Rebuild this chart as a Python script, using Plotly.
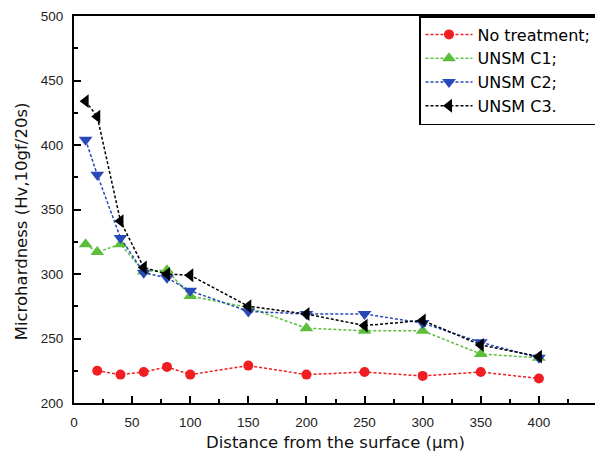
import plotly.graph_objects as go

x_none = [20, 40, 60, 80, 100, 150, 200, 250, 300, 350, 400]
y_none = [225, 222, 224, 228, 222, 229, 222, 224, 221, 224, 219]

x_unsm = [10, 20, 40, 60, 80, 100, 150, 200, 250, 300, 350, 400]
y_c1 = [323, 317, 323, 302, 303, 283, 274, 258, 256, 256, 238, 235]
y_c2 = [404, 377, 328, 301, 297, 287, 271, 269, 269, 262, 247, 235]
y_c3 = [434, 422, 341, 305, 300, 299, 275, 269, 260, 264, 245, 236]

names = ["No treatment;", "UNSM C1;", "UNSM C2;", "UNSM C3."]
colors = ["#f01e23", "#5cbf3c", "#2849b8", "#000000"]
symbols = ["circle", "triangle-up", "triangle-down", "triangle-left"]

x_title = "Distance from the surface (µm)"
y_title = "Microhardness (Hv,10gf/20s)"

series = [(x_none, y_none), (x_unsm, y_c1), (x_unsm, y_c2), (x_unsm, y_c3)]

fig = go.Figure()
for (xs, ys), n, c, s in zip(series, names, colors, symbols):
    fig.add_trace(go.Scatter(
        x=xs, y=ys, name=n, mode="lines+markers",
        line=dict(color=c, width=1.5, dash="3px,2px"),
        marker=dict(symbol=s, size=12 if s != "circle" else 10, color=c),
    ))

font_family = "Liberation Sans, Arial, sans-serif"
wide_family = "DejaVu Sans, Liberation Sans, sans-serif"
axis_common = dict(
    showgrid=False, zeroline=False, automargin=False,
    showline=True, linecolor="black", linewidth=2, mirror=True,
    ticks="inside", ticklen=7, tickwidth=1.5, tickcolor="black",
    tickfont=dict(size=13.5, color="#222"),
    ticklabelstandoff=6,
)

# the page body has an 8px default margin, so the figure is sized to fit
fig.update_layout(
    width=595, height=447,
    margin=dict(l=66, r=6, t=8, b=52),
    paper_bgcolor="white", plot_bgcolor="white",
    font=dict(family=font_family, color="black"),
    showlegend=True,
    legend=dict(
        x=1, y=1, xanchor="right", yanchor="top",
        bgcolor="white", bordercolor="black", borderwidth=1.5,
        font=dict(size=16, color="black", family=wide_family),
        itemwidth=47,
        tracegroupgap=0,
    ),
    xaxis=dict(
        range=[0, 450], dtick=50, tick0=0,
        minor=dict(dtick=25, ticks="inside", ticklen=4, tickcolor="black", tickwidth=1.5),
        **axis_common,
    ),
    yaxis=dict(
        range=[200, 500], dtick=50, tick0=200,
        minor=dict(dtick=25, ticks="inside", ticklen=4, tickcolor="black", tickwidth=1.5),
        **axis_common,
    ),
    annotations=[
        dict(text=x_title, xref="paper", yref="paper", x=0.5, y=-0.1008,
             xanchor="center", yanchor="middle", showarrow=False,
             font=dict(size=16.5, color="#111", family=wide_family)),
        dict(text=y_title, xref="paper", yref="paper", x=-0.101, y=0.47,
             xanchor="center", yanchor="middle", showarrow=False, textangle=-90,
             font=dict(size=16.5, color="#111", family=wide_family)),
    ],
)

fig.write_html("out.html")
